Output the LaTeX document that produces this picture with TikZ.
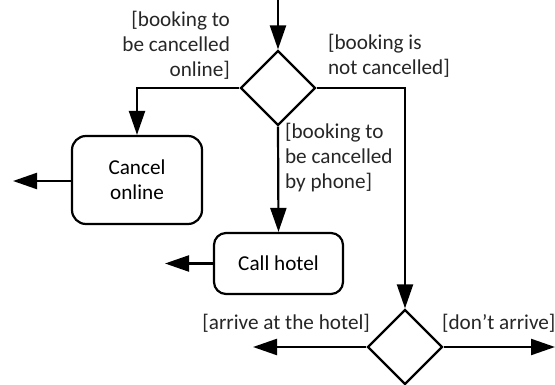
\documentclass[tikz,border=0pt]{standalone}
\usepackage{fontspec}
\setmainfont{Carlito}
\usetikzlibrary{shapes.geometric,arrows.meta}
\begin{document}
\begin{tikzpicture}[x=1pt,y=-1pt,
  font=\fontsize{21.2}{25}\selectfont,
  every path/.style={line width=2.2pt},
  flow/.style={draw, -{Triangle[length=24pt,width=16pt]}},
  decision/.style={draw, diamond, minimum width=75pt, minimum height=75pt, inner sep=0pt, line width=2.2pt},
  action/.style={draw, rounded corners=14pt, inner sep=0pt, align=center, line width=2.2pt},
  guard/.style={inner sep=0pt, text=black!85}]
  \useasboundingbox (0,0) rectangle (555,385);

  % decisions
  \node[decision] (d1) at (278,88) {};
  \node[decision] (d2) at (405,347) {};

  % actions
  \node[action, minimum width=130pt, minimum height=88pt] (co) at (137,180) {Cancel\\online};
  \node[action, minimum width=129pt, minimum height=61pt, rounded corners=12pt] (ch) at (278.5,263.5) {Call hotel};

  % loose ends
  \coordinate (start) at (278,0);
  \coordinate (coout) at (13,181);
  \coordinate (chout) at (165,263.5);
  \coordinate (arrive) at (253,347);
  \coordinate (noarrive) at (555,347);

  % connectors
  \draw[flow] (start) -- (d1.north);
  \draw[flow] (d1.west) -| (co.north);
  \draw[flow] (d1.south) -- (ch.north);
  \draw[flow] (d1.east) -| (d2.north);
  \draw[flow] (co.west |- coout) -- (coout);
  \draw[flow] (ch.west) -- (chout);
  \draw[flow] (d2.west) -- (arrive);
  \draw[flow] (d2.east) -- (noarrive);

  % guards
  \node[guard, anchor=east, align=right] (g1) at (231,45) {[booking to\\be cancelled\\online]};
  \node[guard, anchor=west, align=left] (g2) at (327,56) {[booking is\\not cancelled]};
  \node[guard, anchor=west, align=left] (g3) at (284,158) {[booking to\\be cancelled\\by phone]};
  \node[guard, anchor=east] (g4) at (371,323) {[arrive at the hotel]};
  \node[guard, anchor=west] (g5) at (441,323) {[don’t arrive]};
\end{tikzpicture}
\end{document}
